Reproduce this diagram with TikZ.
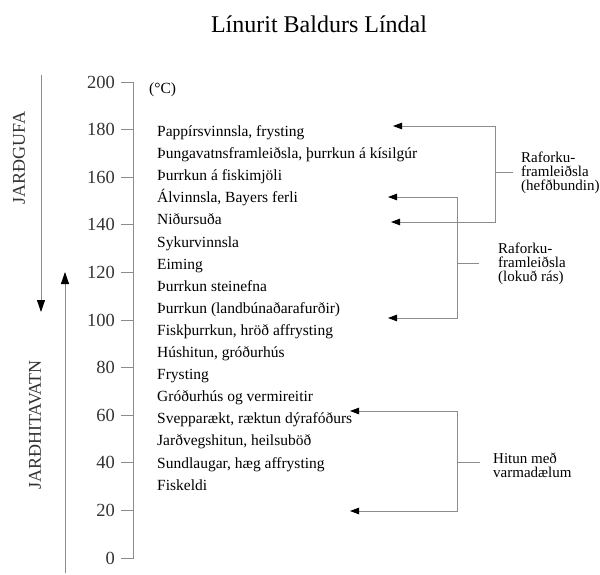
\documentclass[tikz,border=0pt]{standalone}
\usepackage{fontspec}
\setmainfont{Liberation Serif}
\usetikzlibrary{arrows.meta}
\begin{document}
\begin{tikzpicture}[x=1pt,y=-1pt,
  lin/.style={draw=black!45, line width=0.8pt},
  tipsmall/.style={-{Triangle[length=9pt,width=6.5pt,color=black]}},
  tipbig/.style={-{Triangle[length=12pt,width=8pt,color=black]}},
  item/.style={anchor=base west, inner sep=0pt, font=\fontsize{15.5}{18}\selectfont},
  ticklab/.style={anchor=east, inner sep=0pt, font=\fontsize{18.5}{20}\selectfont, text=black!80},
  sidelab/.style={anchor=west, inner sep=0pt, align=left, font=\fontsize{15}{14}\selectfont},
  vlab/.style={rotate=90, inner sep=0pt, text=black!80}]
\useasboundingbox (0,0) rectangle (600,575);

% title
\node[anchor=base, inner sep=0pt, font=\fontsize{24}{26}\selectfont] (title) at (319,32.5) {Línurit Baldurs Líndal};
\node[anchor=base west, inner sep=0pt, font=\fontsize{15.5}{18}\selectfont] (unit) at (149,94) {(°C)};

% axis
\draw[lin] (121,82) -- (133,82) -- (133,558) -- (121,558);
\foreach \k in {0,...,10} {
  \pgfmathtruncatemacro\v{200-20*\k}
  \draw[lin] (121,{82+47.6*\k}) -- (133,{82+47.6*\k});
  \node[ticklab] (t\k) at (115,{82+47.6*\k}) {\v};
}

% items
\foreach \t [count=\i from 0] in {
  {Pappírsvinnsla, frysting},
  {Þungavatnsframleiðsla, þurrkun á kísilgúr},
  {Þurrkun á fiskimjöli},
  {Álvinnsla, Bayers ferli},
  {Niðursuða},
  {Sykurvinnsla},
  {Eiming},
  {Þurrkun steinefna},
  {Þurrkun (landbúnaðarafurðir)},
  {Fiskþurrkun, hröð affrysting},
  {Húshitun, gróðurhús},
  {Frysting},
  {Gróðurhús og vermireitir},
  {Svepparækt, ræktun dýrafóðurs},
  {Jarðvegshitun, heilsuböð},
  {Sundlaugar, hæg affrysting},
  {Fiskeldi}} {
  \node[item] (it\i) at (157,{136.5+22.1*\i}) {\t};
}

% left arrows
\coordinate (g0) at (41,75);
\coordinate (g1) at (41,312);
\draw[lin,tipbig] (g0) -- (g1);
\node[vlab, font=\fontsize{18}{20}\selectfont] (jg) at (19,158) {JARÐGUFA};
\coordinate (h0) at (65,573);
\coordinate (h1) at (65,272);
\draw[lin,tipbig] (h0) -- (h1);
\node[vlab, font=\fontsize{18}{20}\selectfont] (jh) at (35,425) {JARÐHITAVATN};

% Raforkuframleiðsla (hefðbundin)
\coordinate (a1) at (393,126);
\coordinate (a2) at (391,222);
\coordinate (b1) at (495,172);
\draw[lin,tipsmall] (b1) |- (a1);
\draw[lin,tipsmall] (b1) |- (a2);
\node[sidelab] (lab1) at (521,173) {Raforku-\\framleiðsla\\(hefðbundin)};
\draw[lin] (b1) -- ([xshift=-8pt]lab1.west |- b1);

% Raforkuframleiðsla (lokuð rás)
\coordinate (c1) at (388,197);
\coordinate (c2) at (388,318);
\coordinate (b2) at (457,263);
\draw[lin,tipsmall] (b2) |- (c1);
\draw[lin,tipsmall] (b2) |- (c2);
\node[sidelab] (lab2) at (498,264) {Raforku-\\framleiðsla\\(lokuð rás)};
\draw[lin] (b2) -- ([xshift=-19pt]lab2.west |- b2);

% Hitun með varmadælum
\coordinate (d1) at (350,411);
\coordinate (d2) at (350,511);
\coordinate (b3) at (457,462);
\draw[lin,tipsmall] (b3) |- (d1);
\draw[lin,tipsmall] (b3) |- (d2);
\node[sidelab] (lab3) at (493,465) {Hitun með\\varmadælum};
\draw[lin] (b3) -- ([xshift=-13pt]lab3.west |- b3);
\end{tikzpicture}
\end{document}
